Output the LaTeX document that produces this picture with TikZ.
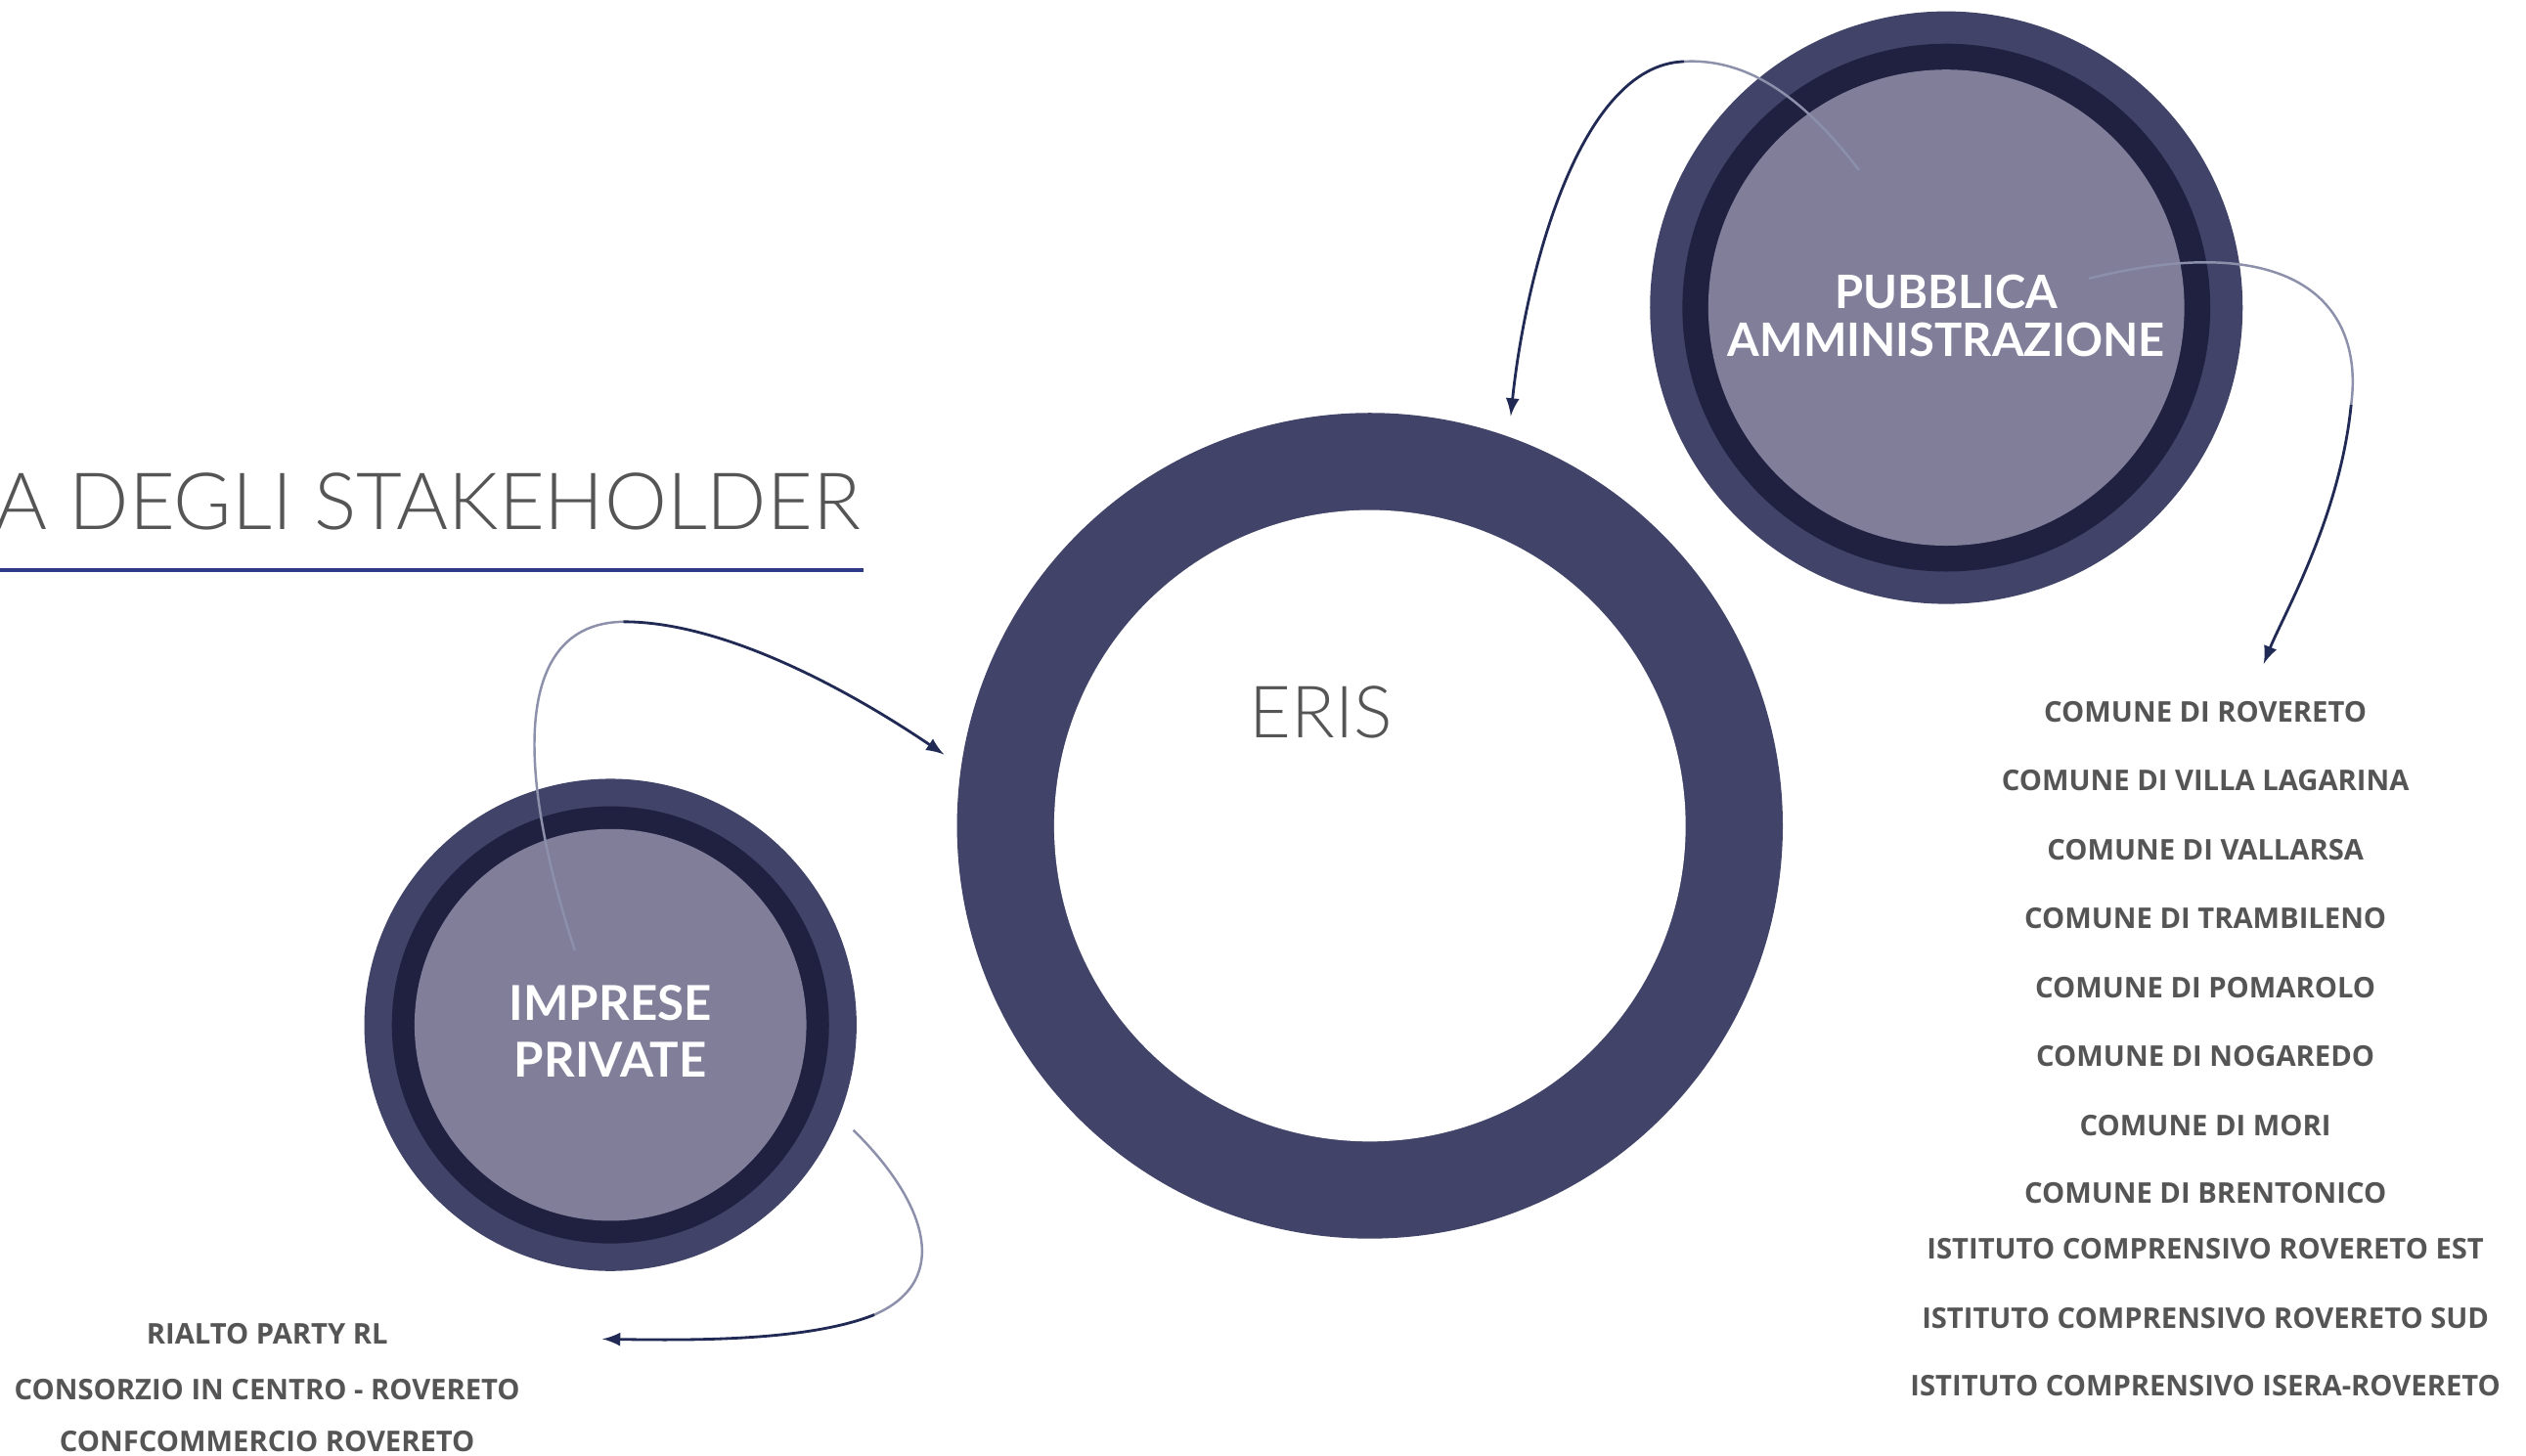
\documentclass[tikz,border=0pt]{standalone}
\usepackage{fontspec}
\setmainfont{Lato}
\newfontfamily\thinfont{Lato Light}
\newfontfamily\listfont{Open Sans}
\usetikzlibrary{positioning}

\definecolor{ring}{RGB}{65,68,104}
\definecolor{darkring}{RGB}{32,33,64}
\definecolor{disc}{RGB}{128,126,153}
\definecolor{txtgray}{RGB}{85,85,85}
\definecolor{rule}{RGB}{46,58,135}
\definecolor{linegray}{RGB}{140,144,170}
\definecolor{linenavy}{RGB}{32,42,84}

\begin{document}
\begin{tikzpicture}[x=0.01656cm,y=-0.01656cm,>=latex,
	listtext/.style={text=txtgray,font=\listfont\bfseries\fontsize{8.3}{10}\selectfont,inner sep=0pt},
	labeltext/.style={text=white,font=\bfseries\fontsize{13.4}{14.1}\selectfont,align=center,inner sep=0pt},
	faint/.style={draw=linegray,line width=0.7pt},
	link/.style={draw=linenavy,line width=0.8pt}]
			
			\useasboundingbox (0,0) rectangle (1560,899);
			
			% title
			\node[anchor=east,inner sep=0pt,text=txtgray,font=\thinfont\fontsize{23}{23}\selectfont] (title) at (532,310) {A DEGLI STAKEHOLDER};
			\draw[rule,line width=1pt] (0,352) coordinate (rule-l) -- (533,352) coordinate (rule-r);
			
			% circles
			\coordinate (eris) at (846,510);
			\coordinate (pa) at (1202,190);
			\coordinate (imp) at (377,633);
			
			\fill[ring] (eris) circle (255);
			\fill[white] (eris) circle (195);
			
			\fill[ring] (pa) circle (183);
			\fill[darkring] (pa) circle (163);
			\fill[disc] (pa) circle (147);
			
			\fill[ring] (imp) circle (152);
			\fill[darkring] (imp) circle (135);
			\fill[disc] (imp) circle (121);
			
			\node[inner sep=0pt,text=txtgray,font=\thinfont\fontsize{21}{21}\selectfont] (eris-label) at (816,440) {ERIS};
			\node[labeltext] (pa-label) at (1202,195) {PUBBLICA\\AMMINISTRAZIONE};
			\node[labeltext,font=\bfseries\fontsize{14}{16.5}\selectfont] (imp-label) at (377,637) {IMPRESE\\PRIVATE};
			
			% arrows
			\coordinate (a1s) at (1148,105);
			\coordinate (a1m) at (1040,38);
			\coordinate (a1e) at (933,257);
			\draw[faint] (a1s) .. controls (1110,55) and (1075,36) .. (a1m);
			\draw[link,->] (a1m) .. controls (975,40) and (942,170) .. (a1e);
			
			\coordinate (a2s) at (1290,172);
			\coordinate (a2m) at (1452,250);
			\coordinate (a2e) at (1398,410);
			\draw[faint] (a2s) .. controls (1420,140) and (1460,190) .. (a2m);
			\draw[link,->] (a2m) .. controls (1445,320) and (1410,380) .. (a2e);
			
			\coordinate (a3s) at (355,587);
			\coordinate (a3m) at (385,384);
			\coordinate (a3e) at (583,466);
			\draw[faint] (a3s) .. controls (320,480) and (315,385) .. (a3m);
			\draw[link,->] (a3m) .. controls (450,384) and (530,430) .. (a3e);
			
			\coordinate (a4s) at (527,698);
			\coordinate (a4m) at (540,812);
			\coordinate (a4e) at (372,827);
			\draw[faint] (a4s) .. controls (570,740) and (590,790) .. (a4m);
			\draw[link,->] (a4m) .. controls (500,828) and (430,828) .. (a4e);
			
			% lists
			\foreach \y/\name [count=\i] in {440/COMUNE DI ROVERETO, 482/COMUNE DI VILLA LAGARINA, 525/COMUNE DI VALLARSA, 567/COMUNE DI TRAMBILENO, 610/COMUNE DI POMAROLO, 652/COMUNE DI NOGAREDO, 695/COMUNE DI MORI, 737/COMUNE DI BRENTONICO, 771/ISTITUTO COMPRENSIVO ROVERETO EST, 814/ISTITUTO COMPRENSIVO ROVERETO SUD, 856/ISTITUTO COMPRENSIVO ISERA-ROVERETO}
				\node[listtext] (pa-\i) at (1362,\y) {\name};
			
			\foreach \y/\name [count=\i] in {824/RIALTO PARTY RL, 858/CONSORZIO IN CENTRO - ROVERETO, 890/CONFCOMMERCIO ROVERETO}
				\node[listtext] (imp-\i) at (165,\y) {\name};
		\end{tikzpicture}
\end{document}
